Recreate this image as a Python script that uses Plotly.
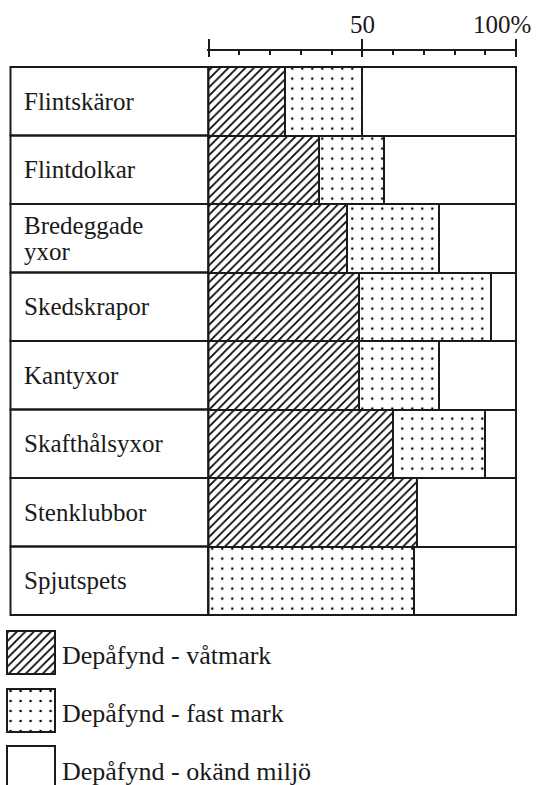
import plotly.graph_objects as go

# Artefact categories (top to bottom); "\n" marks a wrapped label
categories = ["Flintskäror", "Flintdolkar", "Bredeggade\nyxor", "Skedskrapor",
              "Kantyxor", "Skafthålsyxor", "Stenklubbor", "Spjutspets"]

# Share of finds (%) by find environment
vatmark = [25, 36, 45, 49, 49, 60, 68, 0]
fast_mark = [25, 21, 30, 43, 26, 30, 0, 67]
okand_miljo = [50, 43, 25, 8, 25, 10, 32, 33]

series_names = ["Depåfynd - våtmark", "Depåfynd - fast mark", "Depåfynd - okänd miljö"]

tick_vals = [50, 100]
tick_text = ["50", "100%"]

W, H = 541, 785
INK = "#1a1a1a"
FONT = "Liberation Serif"

styles = [
    dict(shape="/", size=6, solidity=0.28),
    dict(shape=".", size=10, solidity=0.05),
    dict(shape="", size=8, solidity=0.3),
]

fig = go.Figure()
n = len(categories)
ypos = list(range(n))

for name, vals, st in zip(series_names, [vatmark, fast_mark, okand_miljo], styles):
    fig.add_trace(go.Bar(
        x=vals, y=ypos, orientation="h", name=name, showlegend=False,
        width=1.0,
        marker=dict(color="white", line=dict(color=INK, width=2),
                    pattern=dict(shape=st["shape"], size=st["size"], solidity=st["solidity"],
                                 fgcolor="#000000", bgcolor="white", fillmode="replace")),
        xaxis="x", yaxis="y", hoverinfo="skip",
    ))

# Key swatches
for i, (name, st) in enumerate(zip(series_names, styles)):
    fig.add_trace(go.Bar(
        x=[1], y=[i], orientation="h", showlegend=False, width=0.75,
        marker=dict(color="white", line=dict(color=INK, width=2),
                    pattern=dict(shape=st["shape"], size=st["size"], solidity=st["solidity"],
                                 fgcolor="#000000", bgcolor="white", fillmode="replace")),
        xaxis="x3", yaxis="y3", hoverinfo="skip",
    ))

# Label column cells
shapes = []
for i in ypos:
    shapes.append(dict(type="rect", xref="paper", yref="y",
                       x0=10.5 / W, x1=208.5 / W, y0=i - 0.5, y1=i + 0.5,
                       line=dict(color=INK, width=2), layer="above"))

annotations = []
for i, lab in enumerate(categories):
    lines = lab.split("\n")
    k = len(lines)
    for j, ln in enumerate(lines):
        annotations.append(dict(
            text=ln, xref="paper", yref="y", x=22 / W, y=i,
            xanchor="left", yanchor="middle", showarrow=False,
            yshift=((k - 1) / 2 - j) * 26,
            font=dict(family=FONT, size=25, color=INK)))

for v, t in zip(tick_vals, tick_text):
    right = t.endswith("%")
    annotations.append(dict(
        text=t, xref="x", yref="paper", x=v, y=(H - 24) / (H - 50),
        xanchor="right" if right else "center", yanchor="middle",
        xshift=17 if right else 0, showarrow=False,
        font=dict(family=FONT, size=25, color=INK)))

for i, name in enumerate(series_names):
    annotations.append(dict(
        text=name, xref="paper", yref="y3", x=60 / W, y=i,
        xanchor="left", yanchor="middle", yshift=-3, showarrow=False,
        font=dict(family=FONT, size=26, color=INK)))

xr = [-0.4, 100.4]
fig.update_layout(
    width=W, height=H, margin=dict(l=0, r=0, t=50, b=0),
    paper_bgcolor="white", plot_bgcolor="white",
    barmode="stack", bargap=0,
    font=dict(family=FONT, color=INK),
    shapes=shapes, annotations=annotations,
    xaxis=dict(domain=[207.27 / W, 517.23 / W], range=xr, side="top",
               anchor="free", position=1, showline=True, linecolor=INK, linewidth=2,
               showgrid=False, zeroline=False, showticklabels=False,
               tickmode="array", tickvals=[0, 50, 100], ticks="outside",
               ticklen=10, tickwidth=2, tickcolor=INK,
               minor=dict(ticks="inside", ticklen=4, tickwidth=2, tickcolor=INK,
                          dtick=10, tick0=0, showgrid=False)),
    xaxis2=dict(overlaying="x", range=xr, side="top", anchor="free", position=1,
                showline=False, showgrid=False, zeroline=False, showticklabels=False,
                tickmode="array", tickvals=[0, 50, 100], ticks="inside",
                ticklen=6, tickwidth=2, tickcolor=INK),
    yaxis=dict(domain=[(H - 618.4) / (H - 50), (H - 63.6) / (H - 50)],
               range=[n - 0.45, -0.55], anchor="x", showgrid=False, zeroline=False,
               showticklabels=False, showline=False),
    xaxis3=dict(domain=[5.56 / W, 56.44 / W], range=[-0.03, 1.03], anchor="y3",
                visible=False),
    yaxis3=dict(domain=[0, 159 / (H - 50)], range=[2.294, -0.459], anchor="x3",
                visible=False),
)

# keep the overlay axis drawn even without traces
fig.add_trace(go.Scatter(x=[None], y=[None], xaxis="x2", yaxis="y", showlegend=False,
                         hoverinfo="skip"))

fig.write_html("out.html")
